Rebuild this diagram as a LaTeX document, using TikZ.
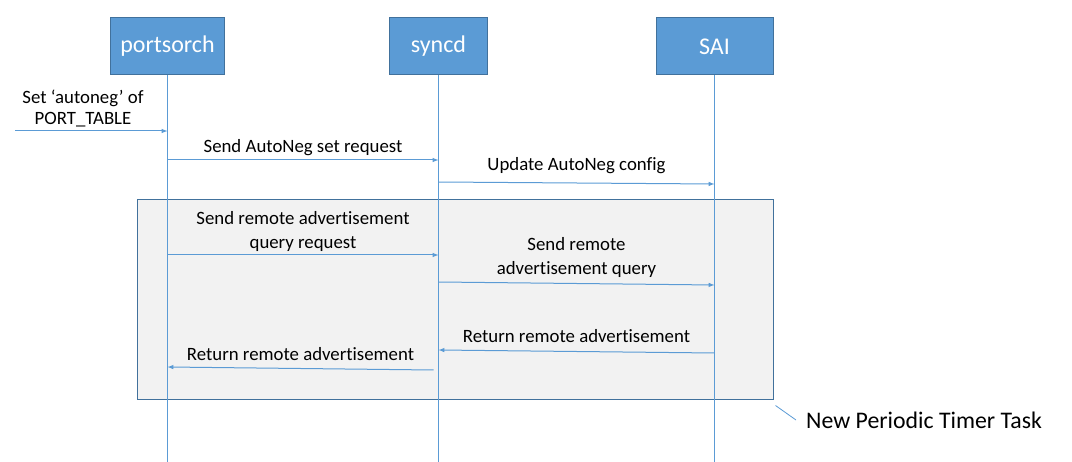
\documentclass[tikz,border=0pt]{standalone}
\usepackage{fontspec}
\setmainfont{Carlito}[Ligatures=NoCommon]
\usetikzlibrary{calc,arrows}
\definecolor{boxblue}{HTML}{5B9BD5}
\definecolor{edgeblue}{HTML}{41719C}
\definecolor{taskgrey}{HTML}{F2F2F2}

\begin{document}
\begin{tikzpicture}[x=1pt,y=-1pt,
    actor/.style={draw=edgeblue, fill=boxblue, text=white, line width=1pt, minimum height=57pt, inner sep=0pt, font=\fontsize{24}{28}\selectfont},
    life/.style={draw=boxblue, line width=1pt},
    msg/.style={draw=boxblue, line width=1pt, -latex},
    lbl/.style={font=\fontsize{18.8}{24}\selectfont, align=center, inner sep=0pt}]
    \useasboundingbox (0,0) rectangle (1072,462);

    \node [draw=edgeblue, fill=taskgrey, line width=1pt, minimum width=636pt, minimum height=200pt, inner sep=0pt] (task) at (455,300) {};

    \node [actor, minimum width=114pt] (ps) at (167.5,46.5) {portsorch};
    \node [actor, minimum width=98pt] (sy) at (438.5,46.5) {syncd};
    \node [actor, minimum width=117pt] (sai) at (714.5,46.5) {SAI};

    \draw [life] (ps.south) -- (ps.south |- 0,462);
    \draw [life] (sy.south) -- (sy.south |- 0,462);
    \draw [life] (sai.south) -- (sai.south |- 0,462);

    \coordinate (cfg) at (15,131);
    \node [font=\fontsize{18.8}{21}\selectfont, align=center] (cfglbl) at (83,108) {Set ‘autoneg’ of\\PORT\_TABLE};
    \draw [msg] (cfg) -- (ps |- cfg);

    \draw [msg] (ps |- 0,160) -- node [lbl, above=4pt] (setlbl) {Send AutoNeg set request} (sy |- 0,160);
    \draw [msg] (sy |- 0,182) -- node [lbl, above=9pt] (updlbl) {Update AutoNeg config} (sai |- 0,184);

    \draw [msg] (ps |- 0,255) -- node [lbl, above=3pt] (qreqlbl) {Send remote advertisement\\query request} (sy |- 0,255);
    \draw [msg] (sy |- 0,282) -- node [lbl, above=5pt] (qlbl) {Send remote\\advertisement query} (sai |- 0,285);
    \draw [msg] (sai |- 0,353) -- node [lbl, above=8pt] (retlbl) {Return remote advertisement} (sy |- 0,350);
    \draw [msg] ($(sy |- 0,370)+(-5,0)$) -- node [lbl, above=7pt] (backlbl) {Return remote advertisement} (ps |- 0,367);

    \node [font=\fontsize{23.8}{28}\selectfont, anchor=west, inner sep=0pt] (note) at (806,420) {New Periodic Timer Task};
    \draw [draw=boxblue, line width=0.8pt] ($(task.south east)+(2,5)$) -- ($(note.west)+(-10,0)$);
\end{tikzpicture}
\end{document}
